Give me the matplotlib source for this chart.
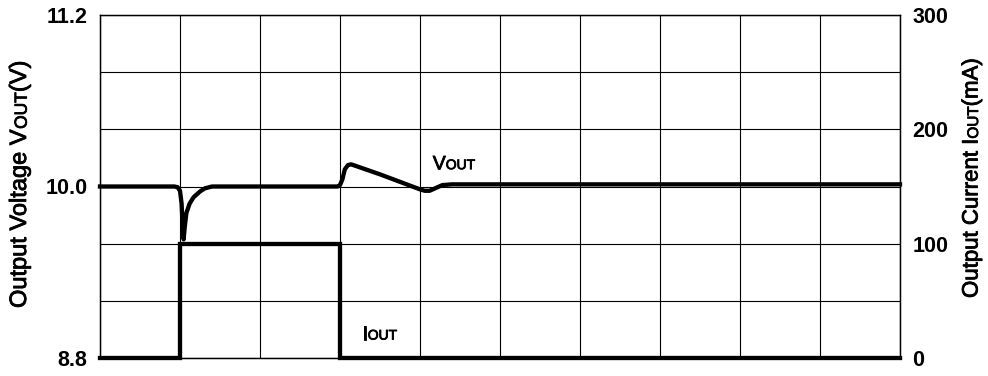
import matplotlib.pyplot as plt
import matplotlib.patheffects as pe

plt.rcParams['font.family'] = ['Liberation Sans', 'DejaVu Sans']

# time axis in grid divisions (10 divisions across)
t_vout = [0.0, 0.93, 0.97, 1.0, 1.02, 1.035, 1.045, 1.06, 1.08, 1.12, 1.17, 1.25, 1.31, 1.4,
          2.97, 3.0, 3.03, 3.06, 3.1, 3.14, 3.5, 4.0, 4.06, 4.12, 4.2, 4.28, 4.4, 10.0]
vout = [10.0, 10.0, 9.995, 9.97, 9.88, 9.70, 9.63, 9.72, 9.815, 9.88, 9.925, 9.965, 9.987, 10.0,
        10.0, 10.01, 10.05, 10.12, 10.15, 10.155, 10.085, 9.98, 9.97, 9.97, 9.99, 10.01, 10.015, 10.015]

t_iout = [0.0, 1.0, 1.0, 3.0, 3.0, 10.0]
iout = [0, 0, 100, 100, 0, 0]

v_ticks = [8.8, 9.2, 9.6, 10.0, 10.4, 10.8, 11.2]
v_labels = ['8.8', '', '', '10.0', '', '', '11.2']
i_ticks = [0, 100, 200, 300]
i_labels = ['0', '100', '200', '300']

DESC = 0.212  # font descent as fraction of size
THICK = [pe.withStroke(linewidth=0.6, foreground='black')]


def chain(first, pieces, rotation=0):
    # place small-caps style pieces one after another on a shared baseline
    prev, prev_size = first, first.get_fontsize()
    for txt, size in pieces:
        shift = DESC * (prev_size - size)
        if rotation == 90:
            prev = plt.gca().annotate(txt, xy=(1, 1), xycoords=prev, xytext=(-shift, 0),
                                      textcoords='offset points', ha='right', va='bottom',
                                      rotation=90, fontsize=size, path_effects=THICK)
        else:
            prev = plt.gca().annotate(txt, xy=(1, 0), xycoords=prev, xytext=(0, shift),
                                      textcoords='offset points', ha='left', va='bottom',
                                      fontsize=size, path_effects=THICK)
        prev_size = size


fig = plt.figure(figsize=(9.88, 3.76), dpi=100)
ax = fig.add_axes([100 / 988, 18 / 376, 800 / 988, 343 / 376])

ax.plot(t_vout, vout, color='black', linewidth=3.1, solid_joinstyle='round', clip_on=False, zorder=3)
ax.set_xlim(0, 10)
ax.set_ylim(8.8, 11.2)
ax.set_xticks(range(11))
ax.set_xticklabels([])
ax.set_yticks(v_ticks)
ax.set_yticklabels(v_labels, fontsize=15.5, fontweight='bold')
ax.tick_params(length=0, pad=9)
ax.grid(True, color='black', linewidth=0.8)
for s in ax.spines.values():
    s.set_linewidth(1.0)

ax2 = ax.twinx()
ax2.plot(t_iout, iout, color='black', linewidth=3.1, solid_joinstyle='miter', clip_on=False, zorder=3)
ax2.set_ylim(0, 300)
ax2.set_yticks(i_ticks)
ax2.set_yticklabels(i_labels, fontsize=15.5, fontweight='bold')
ax2.tick_params(length=0, pad=9)

# in-plot labels
plt.sca(ax)
t1 = ax.text(4.16, 10.12, 'V', fontsize=14, ha='left', va='baseline', path_effects=THICK)
chain(t1, [('OUT', 10)])
plt.sca(ax2)
t2 = ax2.text(3.28, 16, 'I', fontsize=14, ha='left', va='baseline', path_effects=THICK)
chain(t2, [('OUT', 10)])

# axis labels
plt.sca(ax)
l1 = fig.text(20 / 988, 68 / 376, 'Output Voltage V', fontsize=17, rotation=90,
              ha='center', va='bottom', path_effects=THICK)
chain(l1, [('OUT', 12.5), ('(V)', 17)], rotation=90)
l2 = fig.text(972 / 988, 78 / 376, 'Output Current I', fontsize=16, rotation=90,
              ha='center', va='bottom', path_effects=THICK)
chain(l2, [('OUT', 11), ('(mA)', 16)], rotation=90)

fig.savefig('out.png', dpi=100)
